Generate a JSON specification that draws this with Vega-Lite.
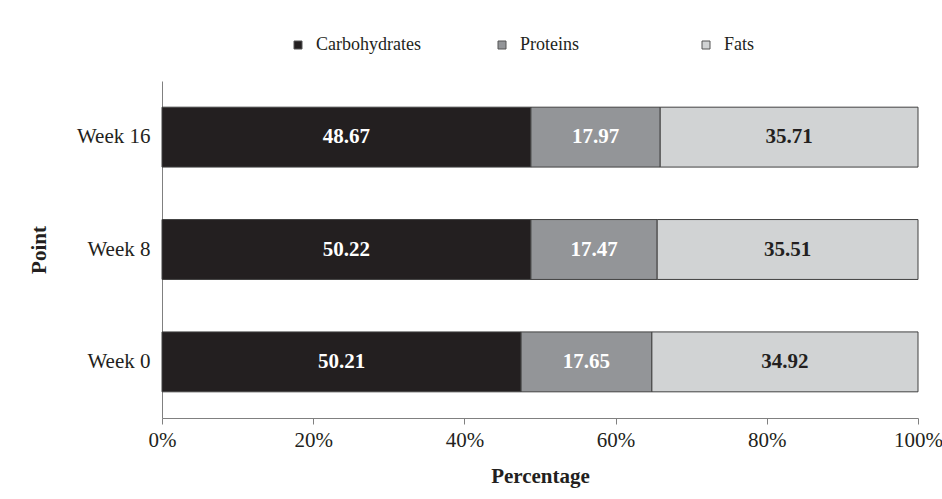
{
  "$schema": "https://vega.github.io/schema/vega-lite/v6.json",
  "autosize": {"type": "none"},
  "width": 756,
  "height": 337,
  "padding": {"left": 162, "top": 81, "right": 24, "bottom": 81},
  "background": "white",
  "config": {
    "font": "Liberation Serif",
    "view": {"stroke": null},
    "axis": {"labelFont": "Liberation Serif", "titleFont": "Liberation Serif", "labelColor": "#231f20", "titleColor": "#231f20", "labelFontSize": 21, "titleFontSize": 21, "titleFontWeight": "bold", "domainColor": "#808080", "tickColor": "#808080", "grid": false}
  },
  "data": {
    "values": [
      {"week": "Week 0", "nutrient": "Carbohydrates", "value": 50.21, "share": 0.475},
      {"week": "Week 0", "nutrient": "Proteins", "value": 17.65, "share": 0.173},
      {"week": "Week 0", "nutrient": "Fats", "value": 34.92, "share": 0.352},
      {"week": "Week 8", "nutrient": "Carbohydrates", "value": 50.22, "share": 0.488},
      {"week": "Week 8", "nutrient": "Proteins", "value": 17.47, "share": 0.167},
      {"week": "Week 8", "nutrient": "Fats", "value": 35.51, "share": 0.345},
      {"week": "Week 16", "nutrient": "Carbohydrates", "value": 48.67, "share": 0.488},
      {"week": "Week 16", "nutrient": "Proteins", "value": 17.97, "share": 0.171},
      {"week": "Week 16", "nutrient": "Fats", "value": 35.71, "share": 0.341}
    ]
  },
  "transform": [
    {"calculate": "indexof(['Carbohydrates','Proteins','Fats'], datum.nutrient)", "as": "ord"},
    {"stack": "share", "groupby": ["week"], "sort": [{"field": "ord", "order": "ascending"}], "as": ["s0", "s1"]},
    {"calculate": "(datum.s0 + datum.s1) / 2", "as": "mid"}
  ],
  "encoding": {
    "y": {
      "field": "week", "type": "nominal",
      "sort": ["Week 16", "Week 8", "Week 0"],
      "scale": {"paddingInner": 0.467, "paddingOuter": 0.233},
      "axis": {"title": "Point", "ticks": false, "labelPadding": 12, "titlePadding": 27, "domainColor": "#808080"}
    }
  },
  "layer": [
    {
      "mark": {"type": "bar", "stroke": "#404040", "strokeWidth": 1},
      "encoding": {
        "x": {
          "field": "s0", "type": "quantitative",
          "scale": {"domain": [0, 1], "nice": false},
          "axis": {"title": "Percentage", "format": ".0%", "values": [0, 0.2, 0.4, 0.6, 0.8, 1], "labelFlush": false, "tickSize": 6, "labelPadding": 5, "titlePadding": 15}
        },
        "x2": {"field": "s1"},
        "color": {
          "field": "nutrient", "type": "nominal",
          "scale": {"domain": ["Carbohydrates", "Proteins", "Fats"], "range": ["#231f20", "#939598", "#d1d3d4"]},
          "legend": {
            "title": null, "orient": "none", "legendX": 127, "legendY": -45, "direction": "horizontal", "columns": 3,
            "gridAlign": "all", "columnPadding": 72, "symbolType": "square", "symbolSize": 64,
            "symbolStrokeColor": "#555555", "symbolStrokeWidth": 1, "labelFont": "Liberation Serif",
            "labelFontSize": 18, "labelColor": "#231f20", "labelOffset": 9
          }
        }
      }
    },
    {
      "mark": {"type": "text", "font": "Liberation Serif", "fontWeight": "bold", "fontSize": 21},
      "encoding": {
        "x": {"field": "mid", "type": "quantitative"},
        "text": {"field": "value", "type": "quantitative", "format": ".2f"},
        "color": {"condition": {"test": "datum.nutrient === 'Fats'", "value": "#231f20"}, "value": "white"}
      }
    }
  ]
}
